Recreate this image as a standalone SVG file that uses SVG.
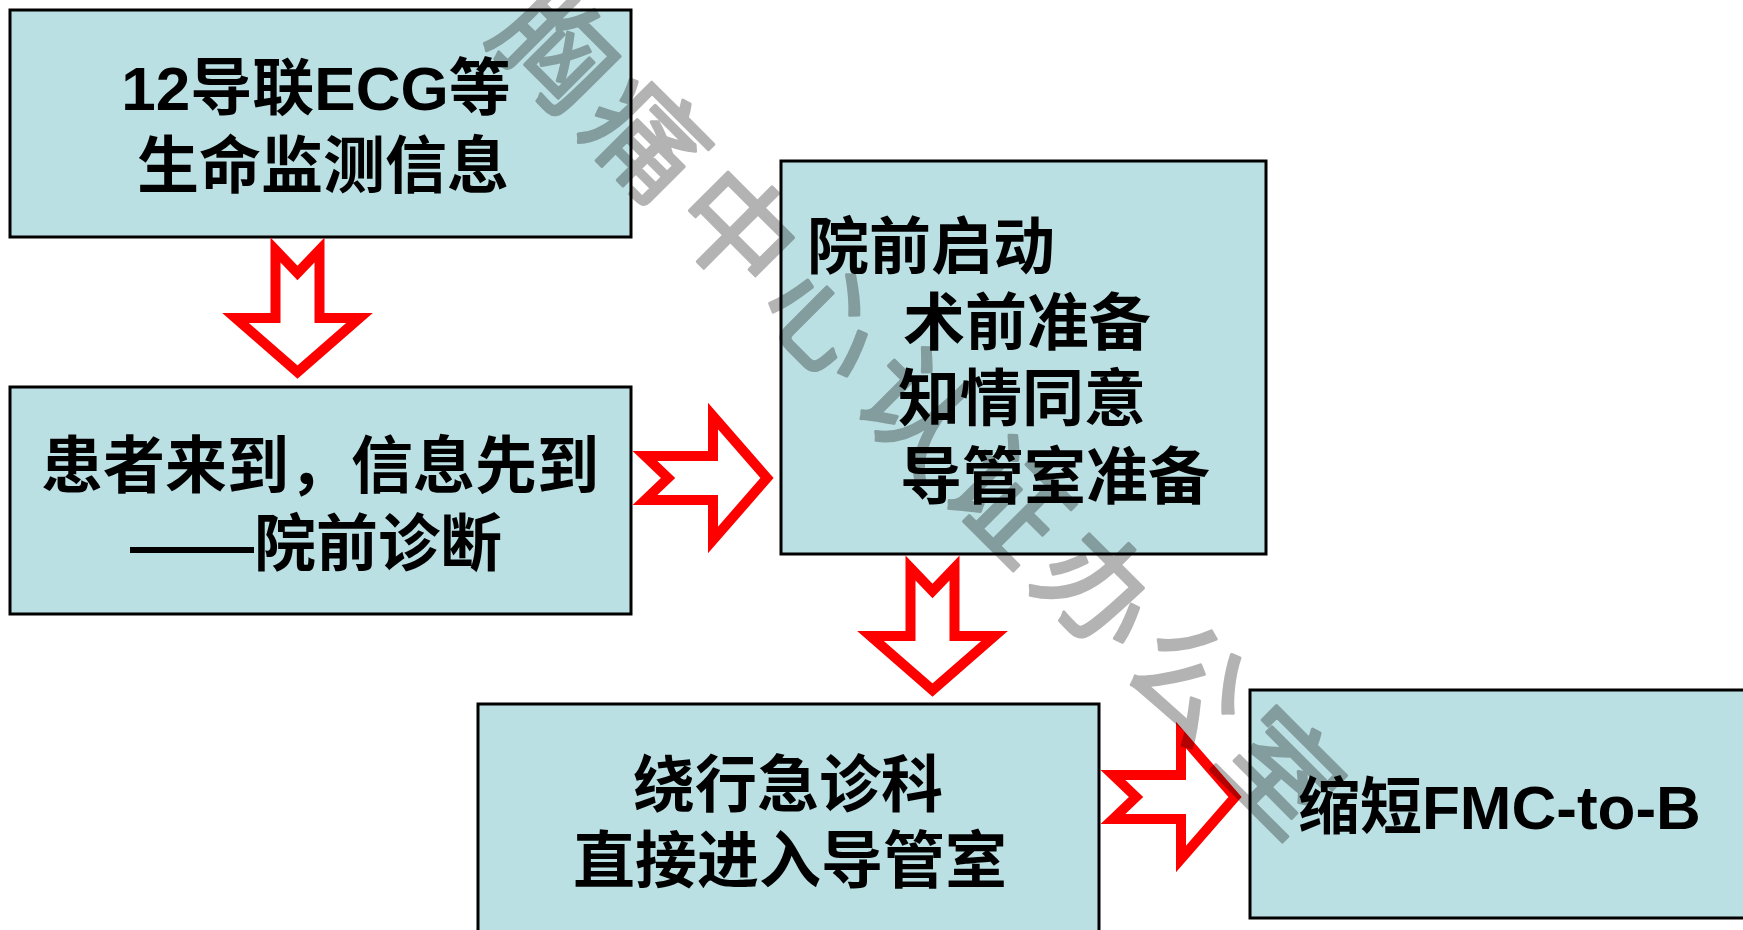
<svg xmlns="http://www.w3.org/2000/svg" width="1743" height="930" viewBox="0 0 1743 930">
<defs>
<style>
.box{fill:#bbe0e3;stroke:#000;stroke-width:3}
.t{font-family:"Liberation Sans","Noto Sans CJK SC",sans-serif;font-weight:bold;font-size:62px;fill:#000}
.c{text-anchor:middle}
.arr{fill:#fff;stroke:#ff0000;stroke-width:10;stroke-linejoin:miter;stroke-miterlimit:10}
.wm{font-family:"Noto Sans CJK SC",sans-serif;font-size:115px;fill:#b3b3b3;stroke:#b3b3b3;stroke-width:3;stroke-linejoin:round;mix-blend-mode:multiply}
</style>
<path id="na" d="M -22,0 L 0,23 L 22,0 L 22,68 L 62,68 L 0,122 L -62,68 L -22,68 Z"/>
</defs>
<rect width="1743" height="930" fill="#fff"/>
<g id="n1">
<rect class="box" x="10" y="10" width="621" height="227"/>
<text class="t c" x="316" y="110">12导联ECG等</text>
<text class="t c" x="323" y="188">生命监测信息</text>
</g>
<g id="n2">
<rect class="box" x="10" y="387" width="621" height="227"/>
<text class="t c" x="320" y="488">患者来到，信息先到</text>
<text class="t c" x="316" y="566">——院前诊断</text>
</g>
<g id="n3">
<rect class="box" x="781" y="161" width="485" height="393"/>
<text class="t" x="807" y="269">院前启动</text>
<text class="t" x="903" y="345">术前准备</text>
<text class="t" x="898" y="421">知情同意</text>
<text class="t" x="900" y="499">导管室准备</text>
</g>
<g id="n4">
<rect class="box" x="478" y="704" width="621" height="240"/>
<text class="t c" x="788" y="807">绕行急诊科</text>
<text class="t c" x="790" y="883">直接进入导管室</text>
</g>
<g id="n5">
<rect class="box" x="1250" y="690" width="510" height="228"/>
<text class="t" x="1298" y="829">缩短FMC-to-B</text>
</g>
<g id="connectors">
<use href="#na" class="arr" transform="translate(297.5,250)"/>
<use href="#na" class="arr" transform="translate(932.5,568)"/>
<use href="#na" class="arr" transform="translate(645,478) rotate(-90)"/>
<use href="#na" class="arr" transform="translate(1113,797) rotate(-90)"/>
</g>
<g id="watermark">
<text class="wm" transform="translate(918,410) rotate(45)" x="-512 -384 -256 -128 0 128 256 384 512" y="42" text-anchor="middle">胸痛中心认证办公室</text>
</g>
</svg>
